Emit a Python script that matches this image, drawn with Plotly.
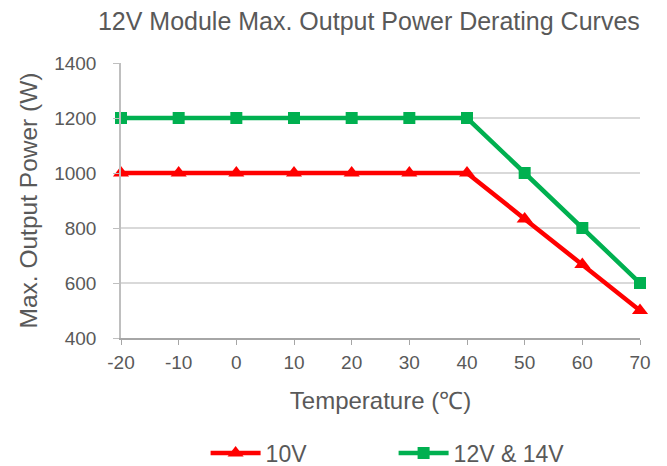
import plotly.graph_objects as go

temperature = [-20, -10, 0, 10, 20, 30, 40, 50, 60, 70]
power_10v = [1000, 1000, 1000, 1000, 1000, 1000, 1000, 833, 667, 500]
power_12v_14v = [1200, 1200, 1200, 1200, 1200, 1200, 1200, 1000, 800, 600]
x_ticks = [-20, -10, 0, 10, 20, 30, 40, 50, 60, 70]
y_ticks = [400, 600, 800, 1000, 1200, 1400]

font_family = "Liberation Sans, Arial, sans-serif"
text_color = "#595959"

fig = go.Figure()
fig.add_trace(go.Scatter(
    x=temperature, y=power_10v, name="10V", mode="lines+markers",
    line=dict(color="#FF0000", width=4.5),
    marker=dict(symbol="triangle-up", size=14, color="#FF0000"),
    cliponaxis=False,
))
fig.add_trace(go.Scatter(
    x=temperature, y=power_12v_14v, name="12V & 14V", mode="lines+markers",
    line=dict(color="#00B050", width=4.5),
    marker=dict(symbol="square", size=12, color="#00B050"),
    cliponaxis=False,
))

fig.update_layout(
    width=667, height=466,
    margin=dict(l=121, r=27, t=63, b=128, autoexpand=False),
    paper_bgcolor="white", plot_bgcolor="white",
    font=dict(family=font_family, color=text_color, size=19),
    title=dict(text="12V Module Max. Output Power Derating Curves",
               x=0.553, xanchor="center", y=0.955, yanchor="middle",
               font=dict(size=25, color=text_color)),
    showlegend=True,
    legend=dict(orientation="h", x=0.163, xanchor="left",
                yref="container", y=0.028, yanchor="middle",
                font=dict(size=23, color=text_color), itemwidth=50,
                entrywidth=123,
                tracegroupgap=0, itemsizing="trace", traceorder="normal"),
)
fig.update_xaxes(
    range=[-20, 70], tickvals=x_ticks, ticktext=[str(v) for v in x_ticks],
    showline=True, linecolor="#A6A6A6", linewidth=1.5,
    ticks="outside", ticklen=5, tickcolor="#A6A6A6", ticklabelstandoff=1,
    showgrid=False, zeroline=False, automargin=False,
    title=dict(text="Temperature (℃)", font=dict(size=24, color=text_color), standoff=21),
    tickfont=dict(size=19, color=text_color),
)
fig.update_yaxes(
    range=[400, 1400], tickvals=y_ticks,
    showline=True, linecolor="#BFBFBF", linewidth=1.5,
    ticks="outside", ticklen=6, tickcolor="#BFBFBF", ticklabelstandoff=13,
    showgrid=True, gridcolor="#D9D9D9", gridwidth=1.5, zeroline=False, automargin=False,
    title=dict(text="Max. Output Power (W)", font=dict(size=24.5, color=text_color), standoff=10),
    tickfont=dict(size=19, color=text_color),
)

fig.write_html("out.html", config={"displayModeBar": False},
               post_script="document.body.style.margin='0';")
